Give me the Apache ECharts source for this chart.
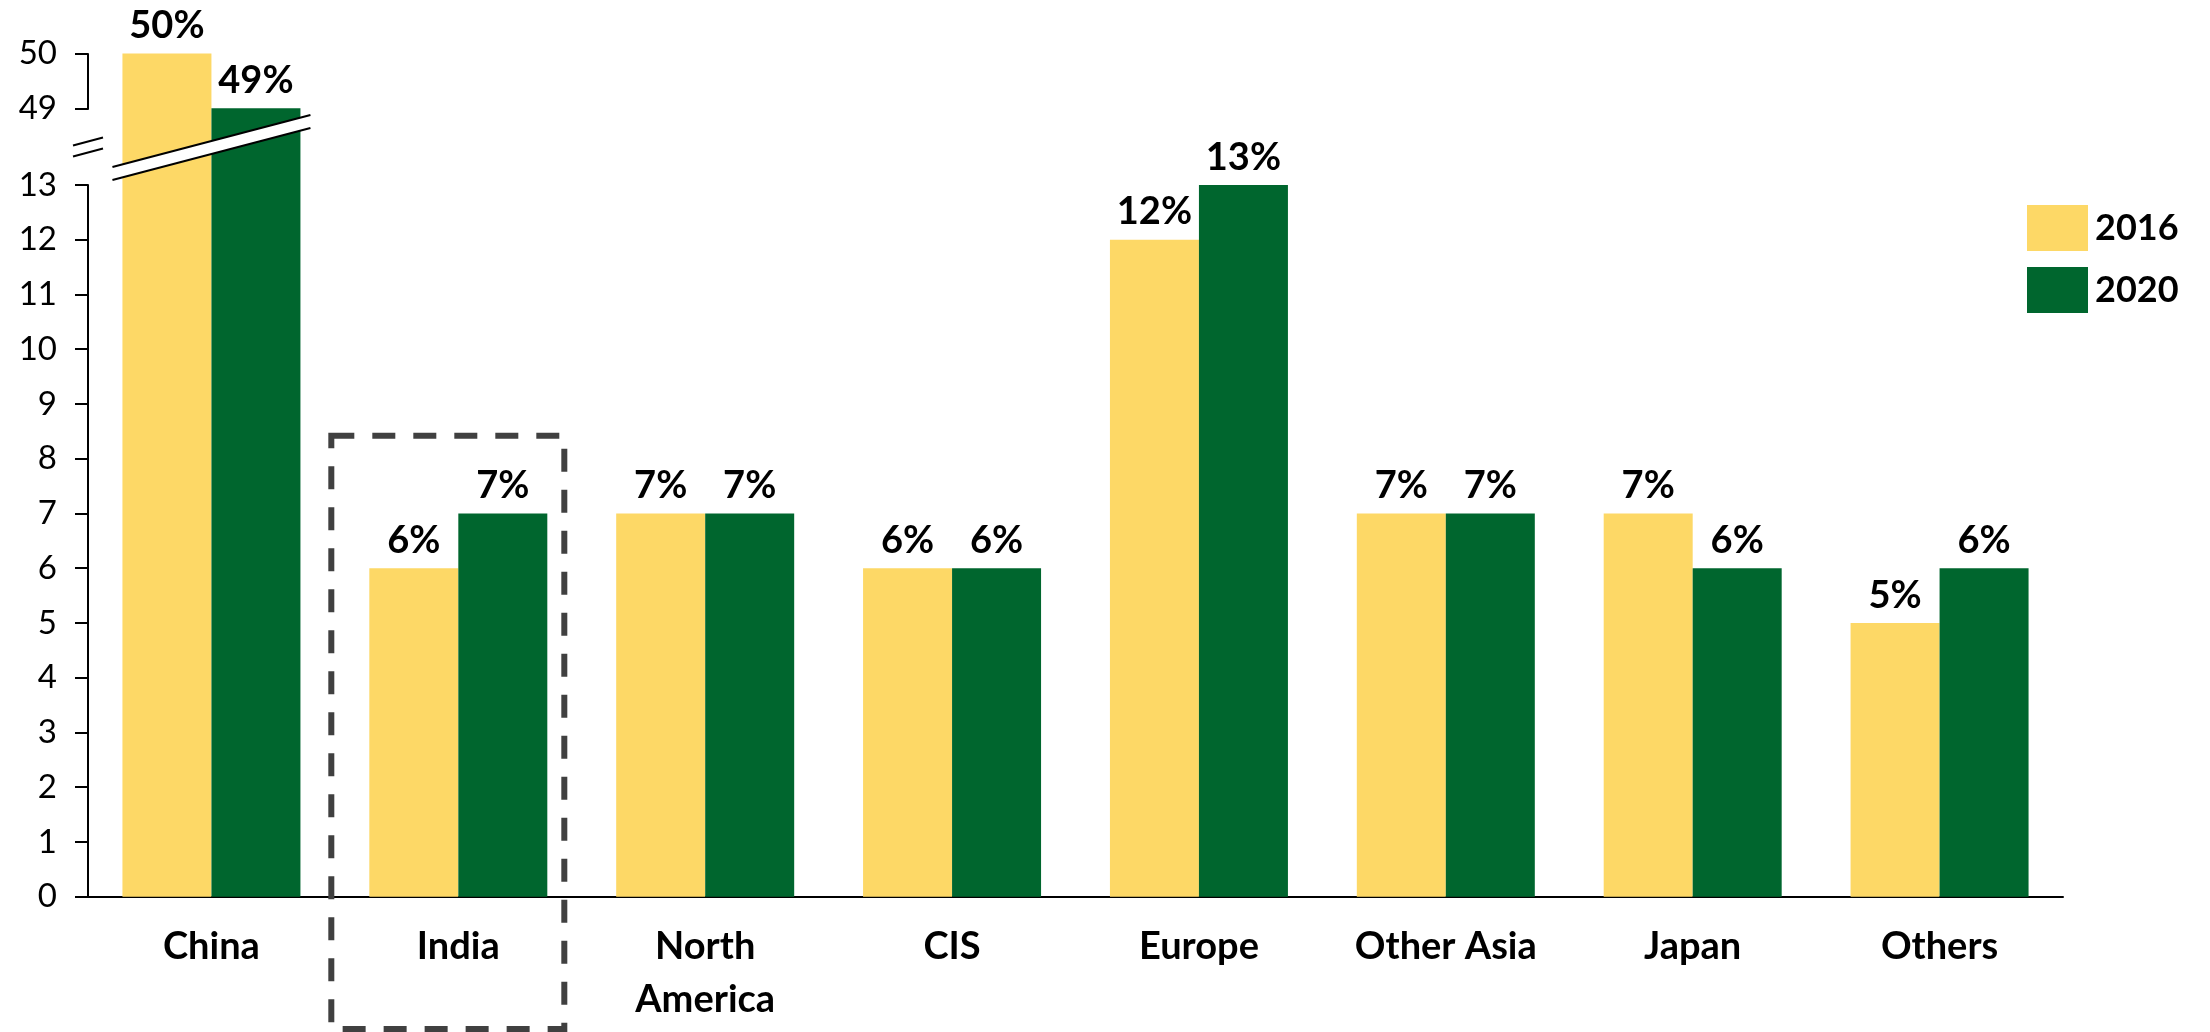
<!DOCTYPE html>
<html>
<head>
<meta charset="utf-8">
<script src="https://cdn.jsdelivr.net/npm/echarts@6/dist/echarts.min.js"></script>
<style>
  html, body { margin: 0; padding: 0; background: #ffffff; }
  #chart { width: 2210px; height: 1032px; }
</style>
</head>
<body>
<div id="chart"></div>
<script>
// Regional shares (%) in 2016 and 2020
const categories = ['China', 'India', 'North\nAmerica', 'CIS', 'Europe', 'Other Asia', 'Japan', 'Others'];
const share2016 = [50, 6, 7, 6, 12, 7, 7, 5];
const share2020 = [49, 7, 7, 6, 13, 7, 6, 6];
const seriesNames = ['2016', '2020'];
// Value axis is broken between these two values
const breakStart = 13;
const breakEnd = 49;

const YELLOW = '#FDD866';
const GREEN = '#00662E';
const FONT = 'Lato';

const chart = echarts.init(document.getElementById('chart'));

const labelStyle = {
  show: true,
  position: 'top',
  distance: 8.5,
  formatter: '{c}%',
  fontFamily: FONT,
  fontWeight: 'bold',
  fontSize: 38,
  color: '#000000'
};

chart.setOption({
  animation: false,
  backgroundColor: '#ffffff',
  grid: { left: 88, right: 147, top: 53.5, bottom: 135.3 },
  legend: {
    orient: 'vertical',
    left: 2022,
    top: 200,
    itemWidth: 61,
    itemHeight: 46,
    itemGap: 16,
    icon: 'rect',
    textStyle: { fontFamily: FONT, fontWeight: 'bold', fontSize: 36, color: '#000000', padding: [0, 0, 0, 2] },
    data: seriesNames
  },
  xAxis: {
    type: 'category',
    data: categories,
    axisLine: { show: true, lineStyle: { color: '#000000', width: 2 } },
    axisTick: { show: false },
    axisLabel: {
      interval: 0,
      margin: 24,
      fontFamily: FONT,
      fontWeight: 'bold',
      fontSize: 38,
      lineHeight: 53,
      color: '#000000'
    }
  },
  yAxis: {
    type: 'value',
    min: 0,
    max: 50,
    interval: 1,
    breaks: [{ start: breakStart, end: breakEnd, gap: 1.4 }],
    breakArea: { show: false },
    axisLine: { show: true, lineStyle: { color: '#000000', width: 2 } },
    axisTick: { show: true, length: 13, lineStyle: { color: '#000000', width: 2 } },
    splitLine: { show: false },
    axisLabel: {
      margin: 31,
      fontFamily: FONT,
      fontSize: 33,
      color: '#000000'
    }
  },
  series: [
    {
      name: seriesNames[0],
      type: 'bar',
      data: share2016,
      barGap: '0%',
      barCategoryGap: '27.9%',
      itemStyle: { color: YELLOW },
      label: labelStyle
    },
    {
      name: seriesNames[1],
      type: 'bar',
      data: share2020,
      barGap: '0%',
      barCategoryGap: '27.9%',
      itemStyle: { color: GREEN },
      label: labelStyle
    }
  ]
});

// Break marks (on the axis and across the China bars) and the dashed frame around India
function addDecorations() {
  const y13 = chart.convertToPixel({ yAxisIndex: 0 }, breakStart);
  const y49 = chart.convertToPixel({ yAxisIndex: 0 }, breakEnd);
  const yMid = (y13 + y49) / 2;
  const chinaX = chart.convertToPixel({ xAxisIndex: 0 }, 0);
  const indiaX = chart.convertToPixel({ xAxisIndex: 0 }, 1);
  const axisX = chinaX - (indiaX - chinaX) / 2;
  const y8 = chart.convertToPixel({ yAxisIndex: 0 }, 8);

  const lineStyle = { stroke: '#000000', lineWidth: 2 };
  const ay = yMid + 0.5;
  const by = yMid + 1;

  chart.setOption({
    graphic: [
      // gap in the value axis
      {
        type: 'polygon', z: 100, silent: true,
        shape: { points: [[axisX - 15, ay - 1.5], [axisX + 15, ay - 9.5], [axisX + 15, ay + 1.5], [axisX - 15, ay + 9.5]] },
        style: { fill: '#ffffff' }
      },
      { type: 'line', z: 101, silent: true, shape: { x1: axisX - 15, y1: ay - 1.5, x2: axisX + 15, y2: ay - 9.5 }, style: lineStyle },
      { type: 'line', z: 101, silent: true, shape: { x1: axisX - 15, y1: ay + 9.5, x2: axisX + 15, y2: ay + 1.5 }, style: lineStyle },
      // slanted band across the China bars
      {
        type: 'polygon', z: 100, silent: true,
        shape: { points: [[chinaX - 99, by + 19.5], [chinaX + 99, by - 32.5], [chinaX + 99, by - 19.5], [chinaX - 99, by + 32.5]] },
        style: { fill: '#ffffff' }
      },
      { type: 'line', z: 101, silent: true, shape: { x1: chinaX - 99, y1: by + 19.5, x2: chinaX + 99, y2: by - 32.5 }, style: lineStyle },
      { type: 'line', z: 101, silent: true, shape: { x1: chinaX - 99, y1: by + 32.5, x2: chinaX + 99, y2: by - 19.5 }, style: lineStyle },
      // dashed frame around India
      {
        type: 'rect', z: 50, silent: true,
        shape: { x: indiaX - 127, y: y8 - 23, width: 233, height: 1029 - (y8 - 23) },
        style: { fill: null, stroke: '#404040', lineWidth: 6, lineDash: [23, 18] }
      }
    ]
  });
}
addDecorations();
</script>
</body>
</html>
